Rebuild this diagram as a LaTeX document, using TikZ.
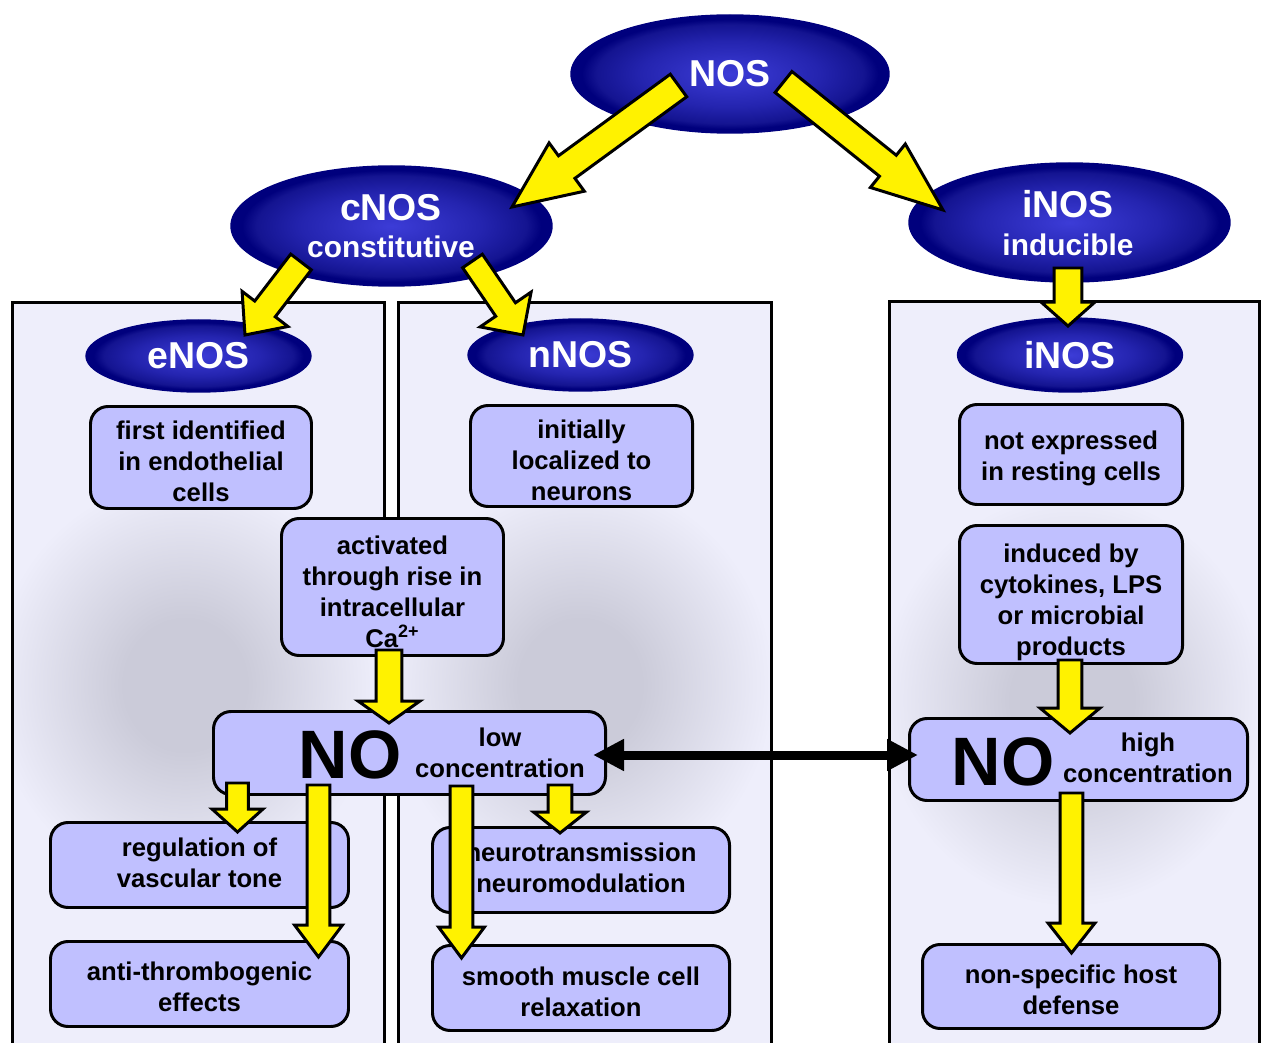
\documentclass[tikz,border=0pt]{standalone}
\usepackage{fontspec}
\setmainfont{Liberation Sans}
\usetikzlibrary{shapes.geometric,calc,arrows.meta}

\definecolor{elA}{RGB}{60,60,215}
\definecolor{elB}{RGB}{36,36,175}
\definecolor{elC}{RGB}{20,20,145}
\definecolor{elD}{RGB}{0,0,125}
\definecolor{boxfill}{RGB}{192,192,255}
\definecolor{panelC}{RGB}{238,238,251}
\definecolor{blobC}{RGB}{203,203,217}

% TikZ maps 25bp of a radial shading to the edge of the shaded ellipse
\pgfdeclareradialshading{ellsh}{\pgfpoint{0bp}{0bp}}{color(0bp)=(elA); color(14bp)=(elB); color(21bp)=(elC); color(23.3bp)=(elD); color(50bp)=(elD)}
\pgfdeclareradialshading{blob}{\pgfpoint{0bp}{0bp}}{color(0bp)=(blobC); color(7bp)=(blobC); color(22bp)=(panelC); color(50bp)=(panelC)}

% block arrow: #1 start (shaft centre), #2 tip, #3 half shaft, #4 half head, #5 head length (px)
\newcommand\yarrow[5]{%
  \draw[yarr] let \p1=($(#2)-(#1)$), \n1={atan2(\y1,\x1)}, \n2={#3*0.5669}, \n3={#4*0.5669}, \n4={#5*0.5669} in
   ($(#1)+(\n1+90:\n2pt)$) -- ($(#2)+(\n1+180:\n4pt)+(\n1+90:\n2pt)$) -- ($(#2)+(\n1+180:\n4pt)+(\n1+90:\n3pt)$) -- (#2)
   -- ($(#2)+(\n1+180:\n4pt)+(\n1-90:\n3pt)$) -- ($(#2)+(\n1+180:\n4pt)+(\n1-90:\n2pt)$) -- ($(#1)+(\n1-90:\n2pt)$) -- cycle;}

% panel: #1 left, #2 top, #3 right, #4 blob centre x, #5 blob centre y
\newcommand\panelbox[5]{%
  \fill[panelC] (#1,#2) rectangle (#3,1090);
  \begin{scope}
    \clip (#1,#2) rectangle (#3,1090);
    \shade[shading=blob] (#4,#5) ellipse [x radius=220, y radius=235];
  \end{scope}
  \draw[black, line width=1.7pt] (#1,#2) rectangle (#3,1090);}

\tikzset{
 bx/.style={draw=black, fill=boxfill, line width=1.7pt, rounded corners=10pt, inner sep=0pt},
 txt/.style={align=center, inner sep=0pt, font=\bfseries\fontsize{14.6pt}{17.6pt}\selectfont, text=black},
 ell/.style={ellipse, shade, shading=ellsh, draw=elD, line width=0.8pt, text=white, inner sep=0pt, align=center, font=\bfseries\fontsize{21.3pt}{24pt}\selectfont},
 sz/.style 2 args={minimum width=#1*0.02cm, minimum height=#2*0.02cm},
 yarr/.style={draw=black, fill=yellow, line width=1.7pt, line join=miter, miter limit=10},
 lbl/.style={inner sep=0pt, anchor=base, font=\bfseries\fontsize{14.6pt}{17.6pt}\selectfont},
 wlbl/.style={inner sep=0pt, anchor=base, text=white, font=\bfseries\fontsize{21.3pt}{24pt}\selectfont},
 wsub/.style={inner sep=0pt, anchor=base, text=white, font=\bfseries\fontsize{17pt}{20pt}\selectfont},
 bigno/.style={inner sep=0pt, anchor=base, font=\bfseries\fontsize{39pt}{40pt}\selectfont},
 dbl/.style={line width=0.18cm, {Triangle[length=0.62cm,width=0.6cm]}-{Triangle[length=0.62cm,width=0.6cm]}},
}

\begin{document}
\begin{tikzpicture}[x=0.02cm,y=-0.02cm]
\useasboundingbox[fill=white] (0,0) rectangle (1261,1043);
\clip (0,0) rectangle (1261,1043);

% panels
\panelbox{12.5}{302.5}{384.5}{185}{685}
\panelbox{398.5}{302.5}{771.5}{580}{685}
\panelbox{889.5}{301.5}{1259.5}{1072}{700}

% ellipses
\node[ell, sz={318}{118}] (nos) at (730,74) {NOS};
\node[ell, sz={321}{120}] (cnos) at (391.5,226) {};
\node[wlbl] (cnosA) at (391,221) {cNOS};
\node[wsub] (cnosB) at (391,258) {constitutive};
\node[ell, sz={321}{119}] (inos) at (1069.5,222.5) {};
\node[wlbl] (inosA) at (1068,217.5) {iNOS};
\node[wsub] (inosB) at (1068,255.5) {inducible};
\node[ell, sz={225}{72}] (enos) at (198.5,356) {eNOS};
\node[ell, sz={225}{72}] (nnos) at (580.5,355) {nNOS};
\node[ell, sz={225}{74}] (inos2) at (1070,355) {iNOS};

% boxes
\node[bx, sz={221}{102}] (b1) at (201,457.5) {};
\node[txt] (b1t) at (201,461.5) {first identified\\in endothelial\\cells};
\node[bx, sz={222}{101}] (b2) at (581.5,456) {};
\node[txt] (b2t) at (581.5,460) {initially\\localized to\\neurons};
\node[bx, sz={222}{137}] (b3) at (392.5,587) {};
\node[txt] (b3t) at (392.5,591.5) {activated\\through rise in\\intracellular\\Ca\textsuperscript{2+}};
\node[bx, sz={223}{100}] (b4) at (1071,454.5) {};
\node[txt] (b4t) at (1071,458.5) {not expressed\\in resting cells};
\node[bx, sz={223}{138}] (b5) at (1071,594.5) {};
\node[txt] (b5t) at (1071,602.5) {induced by\\cytokines, LPS\\or microbial\\products};
\node[bx, sz={392}{83}] (nolow) at (409.5,753) {};
\node[bigno] (nolowA) at (350,778) {NO};
\node[lbl] (nolowB) at (500,746) {low};
\node[lbl] (nolowC) at (500,777) {concentration};
\node[bx, sz={338}{82}] (nohigh) at (1078.5,759.5) {};
\node[bigno] (nohighA) at (1003,785) {NO};
\node[lbl] (nohighB) at (1148,751) {high};
\node[lbl] (nohighC) at (1148,782) {concentration};
\node[bx, sz={298}{85}] (reg) at (199.5,865) {};
\node[txt] (regt) at (199.5,863) {regulation of\\vascular tone};
\node[bx, sz={298}{85}] (anti) at (199.5,984) {};
\node[txt] (antit) at (199.5,987) {anti-thrombogenic\\effects};
\node[bx, sz={297}{85}] (neuro) at (581,870) {};
\node[txt] (neurot) at (581,868) {neurotransmission\\neuromodulation};
\node[bx, sz={297}{85}] (smooth) at (581,988) {};
\node[txt] (smootht) at (581,991.5) {smooth muscle cell\\relaxation};
\node[bx, sz={297}{84}] (host) at (1071,986.5) {};
\node[txt] (hostt) at (1071,989.5) {non-specific host\\defense};

% arrow end points
\coordinate (a1s) at (678.5,85.5);  \coordinate (a1t) at (512,207);
\coordinate (a2s) at (783.5,82);    \coordinate (a2t) at (943,210);
\coordinate (a3s) at (301,262);     \coordinate (a3t) at (245,335);
\coordinate (a4s) at (472.5,261);   \coordinate (a4t) at (523,335);
\coordinate (a5s) at (1068,268);    \coordinate (a5t) at (1068,326);
\coordinate (a6s) at (389,650);     \coordinate (a6t) at (389,723);
\coordinate (a7s) at (237.5,783);   \coordinate (a7t) at (237.5,832);
\coordinate (a8s) at (318.5,785);   \coordinate (a8t) at (318.5,957);
\coordinate (a9s) at (461.5,786);   \coordinate (a9t) at (461.5,958);
\coordinate (a10s) at (560,785);    \coordinate (a10t) at (560,833);
\coordinate (a11s) at (1070,660);   \coordinate (a11t) at (1070,733);
\coordinate (a12s) at (1071.5,793); \coordinate (a12t) at (1071.5,953);

\yarrow{a1s}{a1t}{14}{30}{68}
\yarrow{a2s}{a2t}{13.5}{28}{71}
\yarrow{a3s}{a3t}{13}{29}{33}
\yarrow{a4s}{a4t}{12}{31}{31}
\yarrow{a5s}{a5t}{14}{27}{24}
\yarrow{a6s}{a6t}{13}{31}{22}
\yarrow{a7s}{a7t}{11}{25.5}{23}
\yarrow{a8s}{a8t}{11.5}{24}{32}
\yarrow{a9s}{a9t}{11.5}{23}{31}
\yarrow{a10s}{a10t}{12}{26.5}{21}
\yarrow{a11s}{a11t}{12}{30}{25}
\yarrow{a12s}{a12t}{11.5}{23.5}{30}

% double arrow
\coordinate (dl) at (593,755);
\coordinate (dr) at (918,755);
\draw[dbl] (dl) -- (dr);
\end{tikzpicture}
\end{document}
